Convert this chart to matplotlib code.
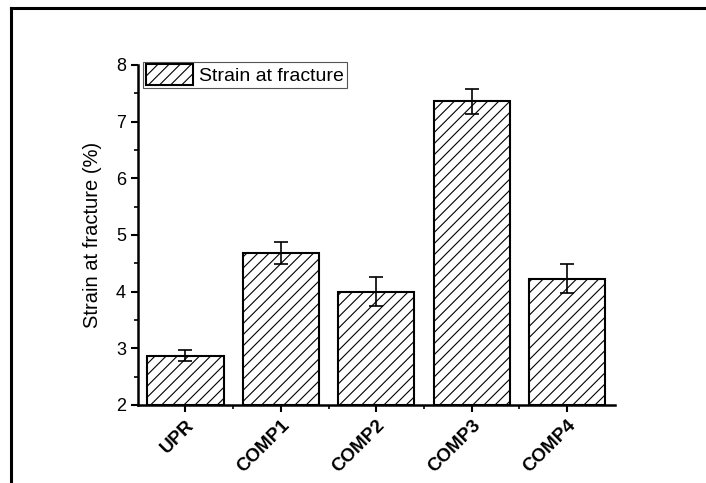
import numpy as np
import matplotlib
matplotlib.use("Agg")
import matplotlib.pyplot as plt
from matplotlib.lines import Line2D
from matplotlib.ticker import MultipleLocator

plt.rcParams['font.family'] = ['Liberation Sans', 'DejaVu Sans']
plt.rcParams['hatch.linewidth'] = 0.8

# data
samples = ['UPR', 'COMP1', 'COMP2', 'COMP3', 'COMP4']
strain = [2.87, 4.68, 4.00, 7.36, 4.23]
strain_err = [0.10, 0.20, 0.25, 0.22, 0.26]

fig = plt.figure(figsize=(7.06, 4.83), dpi=100)
ax = fig.add_axes([0.195, 0.1615, 0.676, 0.704])

x = np.arange(len(samples))
ax.bar(x, np.array(strain) - 2, bottom=2, width=0.8, color='white',
       edgecolor='black', linewidth=1.5, hatch='///', label='Strain at fracture')
ax.errorbar(x, strain, yerr=strain_err, fmt='none', ecolor='black',
            elinewidth=1.2, capsize=5, capthick=1.2)

ax.set_xlim(-0.5, 4.5)
ax.set_ylim(2, 8)
ax.yaxis.set_major_locator(MultipleLocator(1))
ax.yaxis.set_minor_locator(MultipleLocator(0.5))
ax.set_xticks(x)
ax.set_xticks(x[:-1] + 0.5, minor=True)
ax.set_xticklabels(samples, rotation=45, ha='right', rotation_mode='anchor',
                   fontweight='bold', fontsize=13.5)
ax.tick_params(axis='y', labelsize=13)
ax.tick_params(which='major', direction='out', length=5, width=1.5)
ax.tick_params(which='minor', direction='out', length=3, width=1.2)

for side in ['top', 'right']:
    ax.spines[side].set_visible(False)
for side in ['left', 'bottom']:
    ax.spines[side].set_linewidth(1.8)

ax.set_ylabel('Strain at fracture (%)', fontsize=14.5, labelpad=10)

leg = ax.legend(loc='upper left', bbox_to_anchor=(0.012, 1.01), fontsize=14,
                fancybox=False, framealpha=1, edgecolor='#555555',
                borderpad=0.15, handlelength=2.4, handleheight=1.25,
                handletextpad=0.3, borderaxespad=0)
leg.get_frame().set_linewidth(0.8)

# outer frame of the original figure (cropped on right and bottom)
fig.add_artist(Line2D([11 / 706, 11 / 706], [0, 1 - 8 / 483],
                      transform=fig.transFigure, color='black', linewidth=2.2))
fig.add_artist(Line2D([11 / 706, 1], [1 - 8 / 483, 1 - 8 / 483],
                      transform=fig.transFigure, color='black', linewidth=2.2))

fig.savefig('out.png', dpi=100)
